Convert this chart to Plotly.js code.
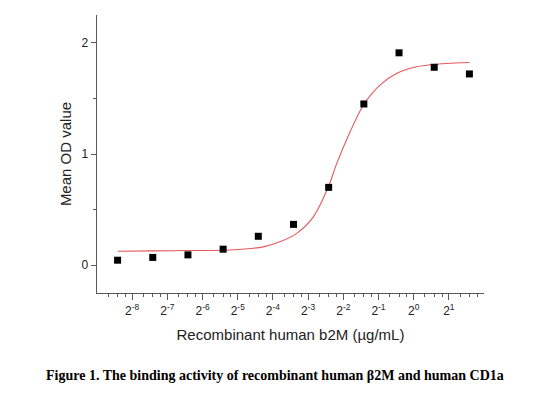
<!DOCTYPE html>
<html>
<head>
<meta charset="utf-8">
<script src="https://cdn.plot.ly/plotly-3.0.1.min.js"></script>
<style>
  html, body { margin: 0; padding: 0; background: #fff; }
  #chart { width: 560px; height: 397px; }
</style>
</head>
<body>
<div id="chart"></div>
<script>
// Measured data: concentration (µg/mL), 2-fold dilutions from 3 µg/mL
var concentration = [0.00293, 0.00586, 0.01172, 0.02344, 0.04688, 0.09375, 0.1875, 0.375, 0.75, 1.5, 3];
var meanOD = [0.045, 0.07, 0.093, 0.144, 0.26, 0.367, 0.70, 1.45, 1.91, 1.78, 1.72];

// Fitted curve
var fitX = [0.00293, 0.00586, 0.01172, 0.02675, 0.05165, 0.0718, 0.0999, 0.1386, 0.1864, 0.220, 0.2862, 0.372, 0.5175, 0.7197, 0.9986, 1.389, 1.931, 3];
var fitY = [0.126, 0.129, 0.132, 0.137, 0.165, 0.210, 0.286, 0.435, 0.705, 0.916, 1.201, 1.441, 1.622, 1.727, 1.778, 1.802, 1.814, 1.823];

// Axis ticks
var xTickVals = [1/256, 1/128, 1/64, 1/32, 1/16, 1/8, 1/4, 1/2, 1, 2];
var xTickText = ['2<sup>-8</sup>', '2<sup>-7</sup>', '2<sup>-6</sup>', '2<sup>-5</sup>', '2<sup>-4</sup>',
                 '2<sup>-3</sup>', '2<sup>-2</sup>', '2<sup>-1</sup>', '2<sup>0</sup>', '2<sup>1</sup>'];
var yTickVals = [0, 1, 2];
var yTickText = ['0', '1', '2'];

var xMinor = [];
for (var k = -9; k <= 1; k++) {
  [1.25, 1.5, 1.75].forEach(function (f) { xMinor.push(Math.pow(2, k) * f); });
}

var axisColor = '#5a5a5a';
var traces = [
  {
    x: fitX, y: fitY, type: 'scatter', mode: 'lines',
    line: { color: '#e5585b', width: 1.1, shape: 'spline', smoothing: 0.8 },
    hoverinfo: 'skip', showlegend: false
  },
  {
    x: concentration, y: meanOD, type: 'scatter', mode: 'markers',
    marker: { symbol: 'square', size: 7, color: '#000' },
    showlegend: false
  }
];

var layout = {
  width: 560, height: 397,
  margin: { l: 97, r: 76, t: 15, b: 104 },
  paper_bgcolor: '#fff', plot_bgcolor: '#fff',
  font: { family: 'Liberation Sans, Arial, sans-serif', color: '#222' },
  xaxis: {
    type: 'log',
    range: [-9 * Math.LN2 / Math.LN10, 2 * Math.LN2 / Math.LN10],
    tickmode: 'array', tickvals: xTickVals, ticktext: xTickText,
    ticks: 'outside', ticklen: 6, tickwidth: 1, tickcolor: axisColor,
    minor: { tickmode: 'array', tickvals: xMinor, ticks: 'outside', ticklen: 3, tickwidth: 1, tickcolor: axisColor, showgrid: false },
    showline: true, linecolor: axisColor, linewidth: 1.3,
    showgrid: false, zeroline: false,
    tickfont: { size: 12, color: '#222' },
    title: { text: 'Recombinant human b2M (µg/mL)', font: { size: 15, color: '#222' }, standoff: 12 }
  },
  yaxis: {
    range: [-0.25, 2.25],
    tickmode: 'array', tickvals: yTickVals, ticktext: yTickText,
    ticks: 'outside', ticklen: 5, tickwidth: 1, tickcolor: axisColor,
    minor: { tickmode: 'array', tickvals: [0.5, 1.5], ticks: 'outside', ticklen: 3, tickwidth: 1, tickcolor: axisColor, showgrid: false },
    showline: true, linecolor: axisColor, linewidth: 1.3,
    showgrid: false, zeroline: false,
    tickfont: { size: 12, color: '#222' },
    title: { text: 'Mean OD value', font: { size: 15, color: '#222' }, standoff: 6 }
  },
  annotations: [
    {
      text: '<b>Figure 1. The binding activity of recombinant human β2M and human CD1a</b>',
      xref: 'paper', yref: 'paper', x: (275 - 97) / 387, y: -0.295,
      xanchor: 'center', yanchor: 'middle', showarrow: false,
      font: { family: 'Liberation Serif, Times New Roman, serif', size: 14, color: '#000' }
    }
  ]
};

Plotly.newPlot('chart', traces, layout, { staticPlot: true, displayModeBar: false });
</script>
</body>
</html>
